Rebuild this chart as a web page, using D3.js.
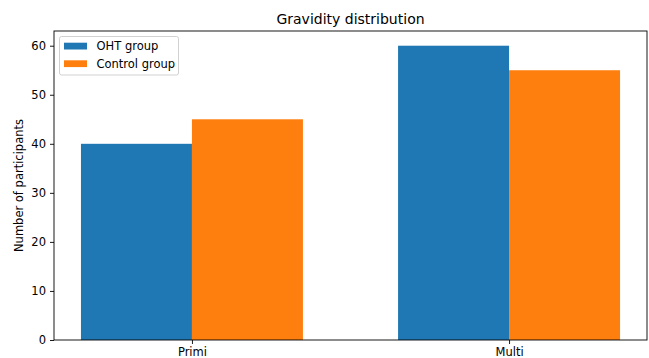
<!DOCTYPE html>
<html><head><meta charset="utf-8">
<script src="https://cdn.jsdelivr.net/npm/d3@7"></script>
<style>body{margin:0;background:#fff}svg{display:block}text{font-family:"DejaVu Sans",sans-serif}</style>
</head><body><svg id="c" width="649" height="358"></svg>
<script>
const categories = ["Primi", "Multi"];
const seriesNames = ["OHT group", "Control group"];
const ohtValues = [40, 60];
const controlValues = [45, 55];
const yTicks = [0, 10, 20, 30, 40, 50, 60];
const colors = ["#1f77b4", "#ff7f0e"];

const svg = d3.select("#c");
const L = 54, R = 647, T = 31, B = 340;
const barW = 0.35;
const fs = 11.5;
const x = d3.scaleLinear().domain([-0.435, 1.435]).range([L, R]);
const y = d3.scaleLinear().domain([0, 63]).range([B, T]);
const series = [ohtValues, controlValues];

series.forEach((vals, si) => {
  svg.append("g").selectAll("rect").data(vals).join("rect")
    .attr("x", (d, i) => x(i + (si === 0 ? -barW : 0)))
    .attr("width", x(barW) - x(0))
    .attr("y", d => y(d))
    .attr("height", d => y(0) - y(d))
    .attr("fill", colors[si]);
});

const yAxis = d3.axisLeft(y).tickValues(yTicks).tickSize(4).tickPadding(4);
const gy = svg.append("g").attr("transform", `translate(${L},0)`).call(yAxis);
const xAxis = d3.axisBottom(x).tickValues([0, 1]).tickFormat((d, i) => categories[i]).tickSize(4).tickPadding(4);
const gx = svg.append("g").attr("transform", `translate(0,${B})`).call(xAxis);
[gx, gy].forEach(g => {
  g.select(".domain").remove();
  g.selectAll("text").attr("font-size", fs).attr("fill", "#000").style("font-family", "DejaVu Sans");
  g.selectAll("line").attr("stroke", "#000").attr("stroke-width", 0.9);
});

svg.append("rect").attr("x", L).attr("y", T).attr("width", R - L).attr("height", B - T)
  .attr("fill", "none").attr("stroke", "#000").attr("stroke-width", 0.9);

svg.append("text").attr("x", (L + R) / 2).attr("y", 24).attr("text-anchor", "middle")
  .attr("font-size", 14).text("Gravidity distribution");
svg.append("text").attr("transform", `translate(23,${(T + B) / 2}) rotate(-90)`)
  .attr("text-anchor", "middle").attr("font-size", fs).text("Number of participants");

// legend
const lg = svg.append("g");
lg.append("rect").attr("x", 59.5).attr("y", 36.5).attr("width", 119).attr("height", 38.5)
  .attr("rx", 2).attr("fill", "#fff").attr("fill-opacity", 0.8).attr("stroke", "#ccc").attr("stroke-width", 0.9);
seriesNames.forEach((n, i) => {
  lg.append("rect").attr("x", 64).attr("y", 42.7 + i * 17.6).attr("width", 23).attr("height", 6.8).attr("fill", colors[i]);
  lg.append("text").attr("x", 96.5).attr("y", 50.2 + i * 17.6).attr("font-size", fs).text(n);
});
</script></body></html>
